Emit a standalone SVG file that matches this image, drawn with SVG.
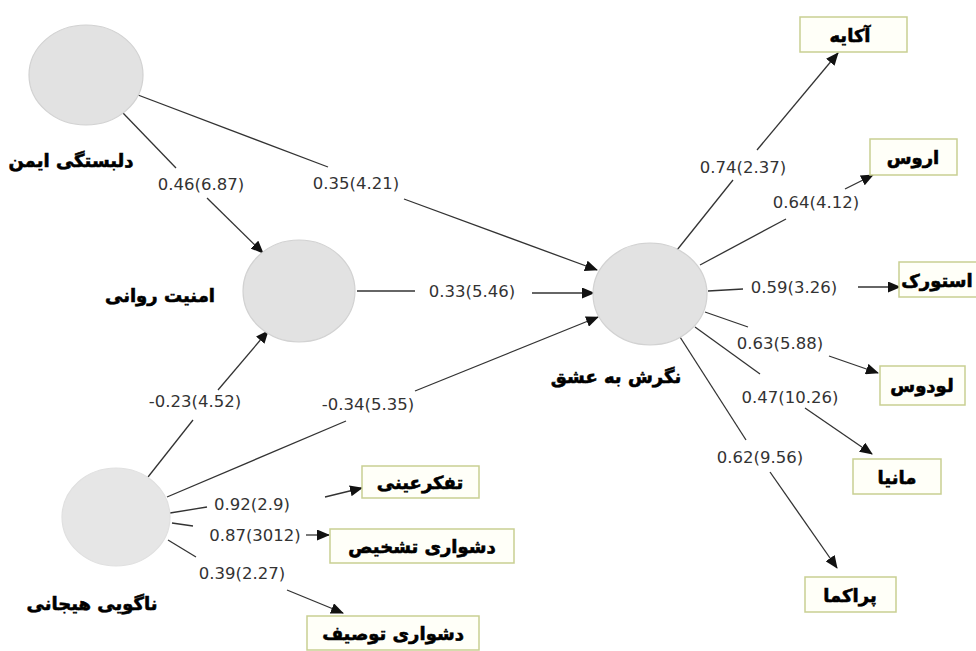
<svg xmlns="http://www.w3.org/2000/svg" width="976" height="651" viewBox="0 0 976 651">
<defs>
<marker id="ah" markerWidth="13" markerHeight="11" refX="12" refY="5.5" orient="auto" markerUnits="userSpaceOnUse">
<path d="M0,0 L13,5.5 L0,11 z" fill="#111"/>
</marker>
<style>
.ln{stroke:#333;stroke-width:1.3;fill:none}
.ar{stroke:#333;stroke-width:1.3;fill:none;marker-end:url(#ah)}
.num{font-family:"DejaVu Sans",Verdana,sans-serif;font-size:16.5px;fill:#333;text-anchor:middle;dominant-baseline:central}
.lv{fill:#e2e2e2;stroke:#d2d2d2;stroke-width:1.2}
.lab{font-family:"DejaVu Sans","Noto Sans",sans-serif;font-weight:bold;font-size:18px;fill:#000;stroke:#000;stroke-width:0.6;text-anchor:middle;dominant-baseline:central}
.box{fill:#fffff8;stroke:#c9cf92;stroke-width:1.5}
</style>
</defs>
<rect width="976" height="651" fill="#fff"/>
<g id="connectors">
<line class="ln" x1="138" y1="95" x2="328" y2="167"/>
<line class="ar" x1="404" y1="199" x2="597" y2="270"/>
<text class="num" x="356" y="183">0.35(4.21)</text>
<line class="ln" x1="123" y1="113" x2="176" y2="168"/>
<line class="ar" x1="207" y1="198" x2="263" y2="253"/>
<text class="num" x="201" y="184">0.46(6.87)</text>
<line class="ln" x1="357" y1="291" x2="415" y2="291"/>
<line class="ar" x1="532" y1="293" x2="594" y2="293"/>
<text class="num" x="472" y="291">0.33(5.46)</text>
<line class="ln" x1="148" y1="477" x2="193" y2="420"/>
<line class="ar" x1="218" y1="390" x2="268" y2="331"/>
<text class="num" x="195" y="401">-0.23(4.52)</text>
<line class="ln" x1="167" y1="497" x2="346" y2="421"/>
<line class="ar" x1="415" y1="391" x2="598" y2="317"/>
<text class="num" x="368" y="404">-0.34(5.35)</text>
<line class="ln" x1="170" y1="513" x2="207" y2="507"/>
<line class="ar" x1="325" y1="497" x2="362" y2="488"/>
<text class="num" x="252" y="504">0.92(2.9)</text>
<line class="ln" x1="172" y1="523" x2="193" y2="526"/>
<line class="ar" x1="306" y1="535" x2="329" y2="535"/>
<text class="num" x="255" y="535">0.87(3012)</text>
<line class="ln" x1="168" y1="540" x2="196" y2="557"/>
<line class="ar" x1="287" y1="590" x2="343" y2="613"/>
<text class="num" x="242" y="573">0.39(2.27)</text>
<line class="ln" x1="677" y1="250" x2="733" y2="180"/>
<line class="ar" x1="757" y1="150" x2="838" y2="53"/>
<text class="num" x="743" y="167">0.74(2.37)</text>
<line class="ln" x1="700" y1="265" x2="786" y2="219"/>
<line class="ar" x1="845" y1="189" x2="873" y2="175"/>
<text class="num" x="816" y="202">0.64(4.12)</text>
<line class="ln" x1="708" y1="291" x2="743" y2="289"/>
<line class="ar" x1="858" y1="287" x2="900" y2="287"/>
<text class="num" x="794" y="287">0.59(3.26)</text>
<line class="ln" x1="705" y1="312" x2="748" y2="327"/>
<line class="ar" x1="829" y1="356" x2="878" y2="373"/>
<text class="num" x="780" y="343">0.63(5.88)</text>
<line class="ln" x1="695" y1="327" x2="760" y2="374"/>
<line class="ar" x1="805" y1="408" x2="872" y2="454"/>
<text class="num" x="790" y="397">0.47(10.26)</text>
<line class="ln" x1="680" y1="337" x2="746" y2="440"/>
<line class="ar" x1="770" y1="472" x2="837" y2="568"/>
<text class="num" x="760" y="457">0.62(9.56)</text>
</g>
<g id="n-dalbastegi">
<ellipse class="lv" cx="86" cy="75" rx="57" ry="50"/>
<text class="lab" x="71" y="160">دلبستگی ایمن</text>
</g>
<g id="n-amniat">
<ellipse class="lv" cx="299" cy="291" rx="56" ry="51"/>
<text class="lab" x="160" y="295">امنیت روانی</text>
</g>
<g id="n-negaresh">
<ellipse class="lv" cx="650" cy="294" rx="57" ry="51"/>
<text class="lab" x="616" y="376">نگرش به عشق</text>
</g>
<g id="n-nagooyi">
<ellipse class="lv" cx="116" cy="517" rx="54" ry="49" style="fill:#e6e6e6;stroke:#e0e0e0"/>
<text class="lab" x="92" y="603">ناگویی هیجانی</text>
</g>
<g id="b-akaye"><rect class="box" x="800" y="17" width="107" height="35"/><text class="lab" x="850" y="35">آکایه</text></g>
<g id="b-eros"><rect class="box" x="870" y="139" width="87" height="36"/><text class="lab" x="913" y="157">اروس</text></g>
<g id="b-storge"><rect class="box" x="899" y="262" width="80" height="35"/><text class="lab" x="937" y="280">استورک</text></g>
<g id="b-ludus"><rect class="box" x="880" y="366" width="85" height="39"/><text class="lab" x="922" y="385">لودوس</text></g>
<g id="b-mania"><rect class="box" x="853" y="459" width="88" height="35"/><text class="lab" x="897" y="477">مانیا</text></g>
<g id="b-pragma"><rect class="box" x="805" y="577" width="91" height="35"/><text class="lab" x="850" y="595">پراکما</text></g>
<g id="b-tafakor"><rect class="box" x="362" y="466" width="117" height="32"/><text class="lab" x="420" y="482">تفکرعینی</text></g>
<g id="b-tashkhis"><rect class="box" x="330" y="529" width="184" height="34"/><text class="lab" x="422" y="546">دشواری تشخیص</text></g>
<g id="b-tosif"><rect class="box" x="307" y="616" width="172" height="34"/><text class="lab" x="393" y="633">دشواری توصیف</text></g>
</svg>
